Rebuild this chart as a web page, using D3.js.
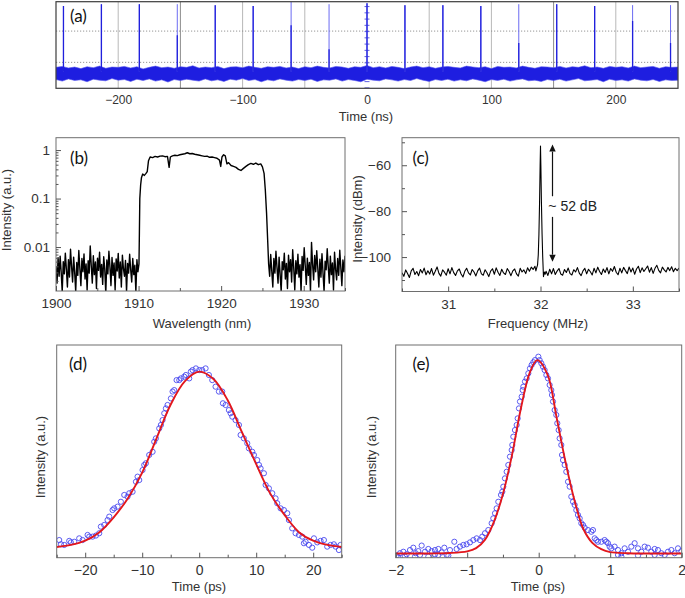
<!DOCTYPE html>
<html><head><meta charset="utf-8">
<script src="https://cdn.jsdelivr.net/npm/d3@7"></script>
<style>
body{margin:0;background:#fff;}
svg{display:block;}
</style></head><body>
<svg id="c" width="685" height="598"></svg>
<script>
// ---------------- DATA ----------------
// (a) oscilloscope pulse train
const aTickLabels = [-200, -100, 0, 100, 200];
const aGridX = [-200, -150, -100, -50, 50, 100, 150, 200];
const aGridY = [0, 1];
const aCenterTicks = [-0.8,-0.6,-0.4,-0.2,0,0.2,0.4,0.6,0.8,1,1.2,1.4,1.6,1.8];
const aPulseTime  = [-244,-213.5,-183,-152.5,-122,-91.5,-61,-30.5,0,30.5,61,91.5,122,152.5,183,213.5,244];
const aPulseTop   = [1.80,1.86,1.86,1.86,1.83,1.80,1.93,1.86,1.89,1.83,1.83,1.80,1.86,1.86,1.80,1.83,1.83];
const aPulseSolid = [1.80,1.86,1.86,0.87,1.83,1.80,1.19,0.42,1.89,1.83,1.83,1.80,0.62,1.86,1.80,1.32,0.62];
const aNoiseUpper = [-0.16,-0.13,-0.18,-0.15,-0.2,-0.14,-0.17,-0.12,-0.19,-0.15,
-0.16,-0.13,-0.18,-0.14,-0.21,-0.16,-0.12,-0.17,-0.15,-0.19,
-0.14,-0.16,-0.11,-0.18,-0.15,-0.17,-0.13,-0.2,-0.15,-0.14,
-0.17,-0.12,-0.16,-0.19,-0.14,-0.16,-0.13,-0.18,-0.15,-0.2,
-0.14,-0.17,-0.12,-0.16,-0.18,-0.13,-0.15,-0.19,-0.14,-0.16,
-0.1,-0.17,-0.14,-0.18,-0.13,-0.16,-0.2,-0.15,-0.12,-0.17,
-0.14,-0.19,-0.15,-0.13,-0.16,-0.18,-0.12,-0.15,-0.17,-0.14,
-0.2,-0.13,-0.16,-0.15,-0.18,-0.12,-0.16,-0.19,-0.14,-0.15,
-0.17,-0.13,-0.18,-0.14,-0.16,-0.11,-0.17,-0.15,-0.19,-0.13,
-0.16,-0.14,-0.18,-0.12,-0.17,-0.15,-0.13,-0.19,-0.14,-0.16,-0.15];
const aNoiseLower = [-0.55,-0.6,-0.53,-0.58,-0.56,-0.62,-0.54,-0.57,-0.59,-0.52,
-0.57,-0.55,-0.61,-0.54,-0.58,-0.53,-0.6,-0.56,-0.63,-0.55,
-0.58,-0.54,-0.57,-0.6,-0.53,-0.59,-0.56,-0.61,-0.54,-0.57,
-0.52,-0.58,-0.55,-0.62,-0.56,-0.59,-0.53,-0.57,-0.6,-0.55,
-0.58,-0.54,-0.61,-0.56,-0.57,-0.53,-0.6,-0.55,-0.58,-0.62,
-0.54,-0.57,-0.59,-0.53,-0.56,-0.6,-0.55,-0.58,-0.52,-0.57,
-0.61,-0.55,-0.58,-0.54,-0.6,-0.56,-0.59,-0.53,-0.57,-0.62,
-0.55,-0.58,-0.54,-0.6,-0.56,-0.53,-0.59,-0.57,-0.61,-0.55,
-0.58,-0.54,-0.6,-0.56,-0.52,-0.59,-0.57,-0.55,-0.62,-0.54,
-0.58,-0.56,-0.6,-0.53,-0.57,-0.59,-0.55,-0.61,-0.56,-0.58,-0.57];

// (b) optical spectrum (log scale)
const bTickLabels = [1900, 1910, 1920, 1930];
const bMinorX = [1905, 1915, 1925, 1935];
const bYTicks = [0.01, 0.1, 1];
const bYMinor = [0.002,0.003,0.004,0.005,0.006,0.007,0.008,0.009,0.02,0.03,0.04,0.05,0.06,0.07,0.08,0.09,0.2,0.3,0.4,0.5,0.6,0.7,0.8,0.9];
const bLeftRange = [1900, 1910.05];
const bLeftNoise = [0.004,0.0018,0.006,0.0025,0.0065,0.003,0.0012,0.005,0.0028,0.0075,0.0035,0.0015,0.0055,0.0024,0.009,0.004,0.0019,0.0062,0.003,0.0012,0.0048,0.0026,0.0085,0.0036,0.0016,0.0058,0.0031,0.0072,0.0022,0.0045,0.0013,0.0052,0.0029,0.0105,0.0041,0.0018,0.0066,0.0027,0.0049,0.0014,0.0059,0.0033,0.0078,0.0024,0.0044,0.0017,0.0063,0.0035,0.0011,0.0054,0.0028,0.0082,0.0039,0.0016,0.0061,0.0026,0.0047,0.0013,0.0057,0.0032,0.0074,0.0023,0.0049,0.0015,0.0068,0.0036,0.0025,0.0053,0.0012,0.0046,0.0029,0.0071,0.0034,0.0019,0.0058,0.0027,0.0042,0.0012,0.0055,0.0031,0.0045];
const bPlateau = [[1910.1,0.02],[1910.15,0.1],[1910.25,0.19],[1910.35,0.27],[1910.5,0.32],[1910.7,0.30],[1910.9,0.33],[1911.05,0.36],[1911.2,0.6],[1911.4,0.72],[1911.7,0.70],[1912.0,0.74],[1912.3,0.72],[1912.6,0.75],[1912.9,0.76],[1913.2,0.73],[1913.5,0.74],[1913.7,0.44],[1913.85,0.72],[1914.1,0.76],[1914.4,0.78],[1914.7,0.77],[1915.0,0.80],[1915.3,0.82],[1915.6,0.84],[1915.9,0.88],[1916.2,0.84],[1916.5,0.85],[1916.8,0.82],[1917.1,0.80],[1917.4,0.78],[1917.7,0.76],[1918.0,0.74],[1918.3,0.75],[1918.6,0.71],[1918.9,0.72],[1919.2,0.70],[1919.5,0.68],[1919.8,0.62],[1919.95,0.46],[1920.1,0.72],[1920.3,0.80],[1920.5,0.76],[1920.7,0.52],[1920.9,0.55],[1921.2,0.48],[1921.5,0.46],[1921.8,0.44],[1922.1,0.40],[1922.4,0.38],[1922.7,0.42],[1923.0,0.46],[1923.3,0.50],[1923.6,0.53],[1923.9,0.51],[1924.2,0.54],[1924.5,0.50],[1924.8,0.52],[1925.0,0.45],[1925.2,0.33],[1925.35,0.15],[1925.5,0.05],[1925.65,0.012]];
const bRightRange = [1925.75, 1935];
const bRightNoise = [0.0045,0.0025,0.007,0.0032,0.0015,0.0058,0.0029,0.0082,0.0038,0.0018,0.0062,0.0027,0.0012,0.005,0.0034,0.0075,0.0022,0.0046,0.0014,0.0068,0.0031,0.0055,0.0019,0.0088,0.0037,0.0013,0.0052,0.0028,0.0071,0.0024,0.0043,0.0012,0.0064,0.0033,0.0097,0.0041,0.0017,0.0059,0.0026,0.0048,0.0012,0.0125,0.0045,0.0021,0.0067,0.0031,0.0084,0.0036,0.0015,0.0056,0.0024,0.0073,0.0029,0.0012,0.0051,0.0034,0.0092,0.0039,0.0018,0.0065,0.0027,0.0047,0.0013,0.0078,0.0035,0.0021,0.0058,0.0026,0.0086,0.0038,0.0016,0.0054,0.0031,0.0066];

// (c) RF spectrum
const cTickLabels = [31, 32, 33];
const cMinorX = [30.5, 31.5, 32.5, 33.5];
const cYTicks = [-60, -80, -100];
const cYMinor = [-50, -70, -90, -110];
const cLeftRange = [30.5, 31.94];
const cLeftNoise = [-106.8,-108.4,-105.6,-107.2,-108.9,-106.0,-104.9,-107.6,-106.3,-108.1,-105.4,-106.9,-104.8,-107.7,-106.0,-107.4,-105.0,-107.9,-106.2,-104.3,-107.1,-108.3,-105.6,-106.6,-107.9,-105.1,-107.3,-104.6,-106.8,-108.0,-106.0,-105.2,-107.4,-108.7,-106.2,-104.9,-106.9,-107.8,-105.4,-106.5,-108.2,-106.0,-104.8,-107.3,-107.9,-105.5,-106.8,-108.5,-106.1,-105.1,-107.5,-104.7,-106.6,-108.0,-105.3,-106.9,-107.6,-105.0,-106.3,-108.1,-106.0,-105.2,-107.3,-108.3,-104.9,-106.5,-105.6,-107.2,-104.7,-106.2,-104.4,-105.4,-104.0];
const cPeak = [[31.95,-106],[31.96,-104.5],[31.968,-103.5],[31.976,-99],[31.983,-90],[31.99,-76],[31.996,-60],[32.0,-51.6],[32.004,-60],[32.01,-76],[32.017,-90],[32.024,-100],[32.032,-108.5],[32.042,-106.5],[32.05,-107.5]];
const cRightRange = [32.06, 33.5];
const cRightNoise = [-106.2,-108.0,-105.3,-107.3,-105.0,-107.6,-106.1,-105.0,-107.4,-107.9,-105.4,-106.7,-104.8,-107.2,-107.8,-105.5,-106.5,-104.6,-107.0,-108.1,-106.0,-104.9,-107.3,-105.3,-106.4,-107.8,-104.9,-106.9,-104.4,-106.3,-107.6,-105.2,-106.7,-104.6,-107.3,-105.0,-106.2,-104.1,-106.6,-107.7,-104.9,-106.9,-104.5,-105.9,-107.2,-104.3,-106.5,-104.8,-107.5,-105.2,-104.0,-106.8,-104.7,-106.3,-105.1,-103.9,-106.6,-104.6,-107.1,-104.9,-103.6,-105.8,-106.9,-104.4,-105.6,-106.5,-104.5,-105.9,-104.2,-106.4,-104.9,-105.9,-104.8];
const cArrow = {x: 32.13, top: -51, bottom: -102, gapTop: -73.5, gapBottom: -82.5, labelY: -78, labelX: 32.085};
const cArrowLabel = "~ 52 dB";

// (d) autocorrelation, wide range
const dTickLabels = [-20, -10, 0, 10, 20];
const dMinorX = [-25, -15, -5, 5, 15, 25];
const dScatter = [[-24.56,0.083],[-24.26,0.063],[-23.68,0.060],[-22.80,0.079],[-22.51,0.072],[-21.92,0.075],[-21.05,0.091],[-20.46,0.083],[-19.58,0.107],[-19.29,0.099],[-18.71,0.099],[-18.12,0.104],[-17.54,0.115],[-17.25,0.146],[-16.66,0.154],[-16.08,0.177],[-15.78,0.193],[-15.20,0.224],[-14.91,0.232],[-14.32,0.240],[-13.74,0.263],[-13.15,0.295],[-12.57,0.287],[-12.27,0.303],[-11.69,0.310],[-11.10,0.357],[-10.81,0.381],[-10.52,0.365],[-9.94,0.412],[-9.64,0.436],[-9.35,0.444],[-8.77,0.483],[-8.18,0.498],[-7.89,0.545],[-7.60,0.561],[-7.01,0.608],[-6.72,0.624],[-6.43,0.647],[-6.13,0.679],[-5.84,0.702],[-5.55,0.718],[-4.96,0.749],[-4.67,0.781],[-4.38,0.788],[-3.97,0.835],[-3.50,0.835],[-3.21,0.843],[-2.63,0.851],[-2.33,0.859],[-1.75,0.843],[-1.46,0.875],[-1.16,0.882],[-0.58,0.890],[0.01,0.882],[0.53,0.882],[1.12,0.890],[1.70,0.859],[2.29,0.835],[2.87,0.804],[3.46,0.781],[4.04,0.781],[4.16,0.726],[4.63,0.718],[5.21,0.694],[5.51,0.679],[5.80,0.663],[6.38,0.647],[6.97,0.624],[7.26,0.577],[7.84,0.561],[8.43,0.538],[8.72,0.514],[9.31,0.498],[9.60,0.483],[10.18,0.459],[10.48,0.436],[10.77,0.420],[11.35,0.397],[11.65,0.342],[12.23,0.326],[12.82,0.303],[13.40,0.279],[13.69,0.256],[14.28,0.232],[14.86,0.224],[15.45,0.209],[15.74,0.177],[16.32,0.138],[16.91,0.115],[17.49,0.107],[18.08,0.099],[18.37,0.068],[18.66,0.075],[19.25,0.060],[19.83,0.047],[20.13,0.091],[20.71,0.072],[21.30,0.079],[21.88,0.083],[22.46,0.052],[23.05,0.060],[23.63,0.063],[23.93,0.052],[24.51,0.036],[24.80,0.060]];
const dFitTime = [-25,-22.5,-20,-17.5,-15,-12.5,-10,-7.5,-5,-2.5,0,2.5,5,7.5,10,12.5,15,17.5,20,22.5,25];
const dFitValue = [0.05,0.06,0.08,0.12,0.19,0.28,0.40,0.56,0.72,0.83,0.875,0.84,0.74,0.59,0.44,0.30,0.20,0.12,0.08,0.06,0.05];

// (e) autocorrelation, narrow range
const eTickLabels = [-2, -1, 0, 1, 2];
const eMinorX = [-1.5, -0.5, 0.5, 1.5];
const eScatter = [[-1.987,0.010],[-1.963,0.002],[-1.940,0.021],[-1.893,0.028],[-1.870,0.005],[-1.847,0.016],[-1.800,0.036],[-1.754,0.047],[-1.730,0.005],[-1.721,0.021],[-1.684,0.031],[-1.660,0.013],[-1.637,0.057],[-1.590,0.028],[-1.544,0.041],[-1.544,0.005],[-1.497,0.031],[-1.451,0.036],[-1.451,0.016],[-1.404,0.041],[-1.404,0.013],[-1.357,0.025],[-1.320,0.047],[-1.287,0.013],[-1.264,0.010],[-1.241,0.036],[-1.180,0.075],[-1.148,0.041],[-1.101,0.052],[-1.054,0.060],[-1.008,0.063],[-0.961,0.072],[-0.914,0.083],[-0.868,0.091],[-0.821,0.083],[-0.789,0.099],[-0.751,0.115],[-0.705,0.130],[-0.658,0.162],[-0.635,0.185],[-0.611,0.209],[-0.588,0.232],[-0.565,0.263],[-0.527,0.295],[-0.509,0.310],[-0.495,0.334],[-0.472,0.373],[-0.448,0.404],[-0.425,0.436],[-0.402,0.475],[-0.378,0.506],[-0.369,0.530],[-0.355,0.569],[-0.332,0.600],[-0.308,0.624],[-0.294,0.655],[-0.276,0.702],[-0.262,0.734],[-0.238,0.757],[-0.224,0.788],[-0.215,0.804],[-0.192,0.828],[-0.168,0.843],[-0.145,0.867],[-0.122,0.890],[-0.099,0.906],[-0.075,0.919],[-0.052,0.929],[-0.005,0.945],[0.013,0.929],[0.037,0.914],[0.060,0.898],[0.083,0.882],[0.107,0.859],[0.130,0.843],[0.153,0.812],[0.176,0.788],[0.186,0.765],[0.200,0.734],[0.223,0.694],[0.246,0.671],[0.260,0.632],[0.279,0.600],[0.293,0.561],[0.316,0.530],[0.326,0.483],[0.340,0.459],[0.363,0.436],[0.386,0.404],[0.410,0.357],[0.433,0.334],[0.456,0.287],[0.480,0.263],[0.503,0.248],[0.526,0.224],[0.549,0.201],[0.573,0.185],[0.596,0.162],[0.619,0.154],[0.643,0.141],[0.689,0.130],[0.736,0.122],[0.759,0.130],[0.783,0.091],[0.806,0.083],[0.829,0.075],[0.876,0.075],[0.922,0.083],[0.946,0.075],[0.969,0.068],[0.992,0.052],[1.016,0.044],[1.062,0.052],[1.109,0.036],[1.109,0.013],[1.156,0.021],[1.156,0.005],[1.202,0.044],[1.249,0.028],[1.295,0.052],[1.342,0.068],[1.389,0.044],[1.389,0.010],[1.435,0.028],[1.482,0.052],[1.528,0.047],[1.575,0.028],[1.622,0.041],[1.622,0.013],[1.668,0.036],[1.715,0.021],[1.762,0.013],[1.808,0.028],[1.855,0.036],[1.901,0.021],[1.948,0.044],[1.995,0.031]];
const eFitTime = [-2,-1.5,-1.25,-1.0,-0.875,-0.75,-0.625,-0.5,-0.375,-0.25,-0.125,-0.02,0.125,0.25,0.375,0.5,0.625,0.75,0.875,1.0,1.25,1.5,2];
const eFitValue = [0.02,0.02,0.022,0.03,0.045,0.085,0.17,0.30,0.48,0.70,0.87,0.929,0.86,0.66,0.45,0.27,0.135,0.07,0.04,0.026,0.021,0.02,0.02];

// ---------------- DRAWING ----------------
const svg = d3.select("#c");
const FONT = "'Liberation Sans', Arial, sans-serif";
const LABELFONT = "Lato, 'Open Sans', sans-serif";
let clipId = 0;

function makeClip(x0, y0, x1, y1) {
  const id = "clip" + (clipId++);
  svg.append("clipPath").attr("id", id).append("rect")
    .attr("x", x0).attr("y", y0).attr("width", x1 - x0).attr("height", y1 - y0);
  return "url(#" + id + ")";
}
function styleAxis(g, size) {
  g.attr("font-family", FONT).attr("font-size", size);
  g.select(".domain").remove();
  g.selectAll(".tick line").attr("stroke", "#555");
  g.selectAll(".tick text").attr("fill", "#333");
}
function frame(x0, y0, x1, y1, color, w) {
  svg.append("rect").attr("x", x0).attr("y", y0).attr("width", x1 - x0).attr("height", y1 - y0)
    .attr("fill", "none").attr("stroke", color).attr("stroke-width", w);
}
function panelLabel(txt, x, y) {
  svg.append("text").attr("x", x).attr("y", y).text(txt)
    .attr("font-family", LABELFONT).attr("font-size", 17).attr("fill", "#111");
}
function xTitle(txt, x, y) {
  svg.append("text").attr("x", x).attr("y", y).attr("text-anchor", "middle").text(txt)
    .attr("font-family", FONT).attr("font-size", 13).attr("fill", "#333");
}
function yTitle(txt, x, y) {
  svg.append("text").attr("transform", `translate(${x},${y}) rotate(-90)`).attr("text-anchor", "middle").text(txt)
    .attr("font-family", FONT).attr("font-size", 13).attr("fill", "#333");
}

// ===== (a) =====
{
  const L = 56, R = 678, T = 1.7, B = 88.3;
  const x = d3.scaleLinear().domain([-250, 250]).range([L, R]);
  const y = d3.scaleLinear().domain([-0.83, 1.94]).range([B, T]);
  const g = svg.append("g").attr("clip-path", makeClip(L, T, R, B));
  g.selectAll("line.vg").data(aGridX).join("line")
    .attr("x1", d => x(d)).attr("x2", d => x(d)).attr("y1", T).attr("y2", B)
    .attr("stroke", d => Math.abs(d) === 150 ? "#8c8c8c" : "#b8b8b8").attr("stroke-width", 1);
  g.selectAll("line.hg").data(aGridY).join("line")
    .attr("x1", L).attr("x2", R).attr("y1", d => y(d)).attr("y2", d => y(d))
    .attr("stroke", "#8a8a8a").attr("stroke-width", 0.9).attr("stroke-dasharray", "1.2,1.8");
  const ca = g.append("g").attr("transform", `translate(${x(0)},0)`)
    .call(d3.axisLeft(y).tickValues(aCenterTicks).tickSize(2.5).tickFormat(""));
  ca.select(".domain").remove();
  ca.selectAll(".tick line").attr("stroke", "#6060e0").attr("x2", 2.5).attr("x1", -2.5);
  const n = aNoiseUpper.length;
  const nx = i => -250 + i * 500 / (n - 1);
  const area = d3.area().x((d, i) => x(nx(i))).y0((d, i) => y(aNoiseLower[i])).y1(d => y(d));
  g.append("path").datum(aNoiseUpper).attr("d", area).attr("fill", "#1e1ee0")
    .attr("stroke", "#5555ee").attr("stroke-width", 0.6);
  g.selectAll("line.pl").data(aPulseTime).join("line")
    .attr("x1", d => x(d)).attr("x2", d => x(d)).attr("y1", y(-0.3)).attr("y2", (d, i) => y(aPulseTop[i]))
    .attr("stroke", "#6b6bf2").attr("stroke-width", 1);
  g.selectAll("line.ps").data(aPulseTime).join("line")
    .attr("x1", d => x(d)).attr("x2", d => x(d)).attr("y1", y(-0.3)).attr("y2", (d, i) => y(aPulseSolid[i]))
    .attr("stroke", "#2020dc").attr("stroke-width", 1.3);
  frame(L, T, R, B, "#3c3c3c", 1.2);
  const ax = svg.append("g").attr("transform", `translate(0,${B})`)
    .call(d3.axisBottom(x).tickValues(aTickLabels).tickSize(0).tickPadding(7).tickFormat(d3.format("d")));
  styleAxis(ax, 12);
  xTitle("Time (ns)", 366, 120.5);
  panelLabel("(a)", 70, 22);
}

// ===== (b) =====
{
  const L = 56, R = 345, T = 137.7, B = 291;
  const x = d3.scaleLinear().domain([1900, 1935]).range([L, R]);
  const y = d3.scaleLog().domain([0.00124, 1.8]).range([B, T]);
  const pts = [];
  bLeftNoise.forEach((v, i) => pts.push([bLeftRange[0] + i * (bLeftRange[1] - bLeftRange[0]) / (bLeftNoise.length - 1), v]));
  bPlateau.forEach(p => pts.push(p));
  bRightNoise.forEach((v, i) => pts.push([bRightRange[0] + i * (bRightRange[1] - bRightRange[0]) / (bRightNoise.length - 1), v]));
  const g = svg.append("g").attr("clip-path", makeClip(L, T, R, B));
  g.append("path").datum(pts).attr("fill", "none").attr("stroke", "#000").attr("stroke-width", 1.4)
    .attr("stroke-linejoin", "round")
    .attr("d", d3.line().x(d => x(d[0])).y(d => y(Math.max(d[1], 0.0009))));
  frame(L, T, R, B, "#6e6e6e", 1);
  const ax = svg.append("g").attr("transform", `translate(0,${B})`)
    .call(d3.axisBottom(x).tickValues(bTickLabels).tickSize(-5).tickPadding(7.5).tickFormat(d3.format("d")));
  styleAxis(ax, 13.5);
  const axm = svg.append("g").attr("transform", `translate(0,${B})`)
    .call(d3.axisBottom(x).tickValues(bMinorX).tickSize(-3).tickFormat(""));
  styleAxis(axm, 13.5);
  const ay = svg.append("g").attr("transform", `translate(${L},0)`)
    .call(d3.axisLeft(y).tickValues(bYTicks).tickSize(-5).tickPadding(6).tickFormat(d => String(d)));
  styleAxis(ay, 13.5);
  const aym = svg.append("g").attr("transform", `translate(${L},0)`)
    .call(d3.axisLeft(y).tickValues(bYMinor).tickSize(-2.5).tickFormat(""));
  styleAxis(aym, 13.5);
  xTitle("Wavelength (nm)", 202, 328);
  yTitle("Intensity (a.u.)", 11, 210);
  panelLabel("(b)", 70, 164);
}

// ===== (c) =====
{
  const L = 402, R = 679, T = 137.7, B = 291.5;
  const x = d3.scaleLinear().domain([30.5, 33.5]).range([L, R]);
  const y = d3.scaleLinear().domain([-115, -48]).range([B, T]);
  const pts = [];
  cLeftNoise.forEach((v, i) => pts.push([cLeftRange[0] + i * (cLeftRange[1] - cLeftRange[0]) / (cLeftNoise.length - 1), v]));
  cPeak.forEach(p => pts.push(p));
  cRightNoise.forEach((v, i) => pts.push([cRightRange[0] + i * (cRightRange[1] - cRightRange[0]) / (cRightNoise.length - 1), v]));
  const g = svg.append("g").attr("clip-path", makeClip(L, T, R, B));
  g.append("path").datum(pts).attr("fill", "none").attr("stroke", "#000").attr("stroke-width", 1.1)
    .attr("stroke-linejoin", "round")
    .attr("d", d3.line().x(d => x(d[0])).y(d => y(d[1])));
  const ah = 7, aw = 3.2;
  const axp = x(cArrow.x);
  svg.append("line").attr("x1", axp).attr("x2", axp).attr("y1", y(cArrow.top) + ah).attr("y2", y(cArrow.gapTop))
    .attr("stroke", "#111").attr("stroke-width", 1.2);
  svg.append("line").attr("x1", axp).attr("x2", axp).attr("y1", y(cArrow.gapBottom)).attr("y2", y(cArrow.bottom) - ah)
    .attr("stroke", "#111").attr("stroke-width", 1.2);
  svg.append("path").attr("d", `M${axp},${y(cArrow.top)} L${axp - aw},${y(cArrow.top) + ah} L${axp + aw},${y(cArrow.top) + ah}Z`).attr("fill", "#111");
  svg.append("path").attr("d", `M${axp},${y(cArrow.bottom)} L${axp - aw},${y(cArrow.bottom) - ah} L${axp + aw},${y(cArrow.bottom) - ah}Z`).attr("fill", "#111");
  svg.append("text").attr("x", x(cArrow.labelX)).attr("y", y(cArrow.labelY)).attr("dy", "0.35em").text(cArrowLabel)
    .attr("font-family", FONT).attr("font-size", 14).attr("fill", "#222");
  frame(L, T, R, B, "#6e6e6e", 1);
  const ax = svg.append("g").attr("transform", `translate(0,${B})`)
    .call(d3.axisBottom(x).tickValues(cTickLabels).tickSize(-5).tickPadding(7.5).tickFormat(d3.format("d")));
  styleAxis(ax, 13.5);
  const axm = svg.append("g").attr("transform", `translate(0,${B})`)
    .call(d3.axisBottom(x).tickValues(cMinorX).tickSize(-3).tickFormat(""));
  styleAxis(axm, 13.5);
  const ay = svg.append("g").attr("transform", `translate(${L},0)`)
    .call(d3.axisLeft(y).tickValues(cYTicks).tickSize(-5).tickPadding(11).tickFormat(d3.format("d")));
  styleAxis(ay, 13.5);
  const aym = svg.append("g").attr("transform", `translate(${L},0)`)
    .call(d3.axisLeft(y).tickValues(cYMinor).tickSize(-3).tickFormat(""));
  styleAxis(aym, 13.5);
  xTitle("Frequency (MHz)", 538, 328);
  yTitle("Intensity (dBm)", 361.5, 219);
  panelLabel("(c)", 412.5, 164);
}

// ===== (d) & (e) =====
function autocorr(opts) {
  const {L, R, T, B, dom, scatter, fitT, fitV, ticks, minor, label, lx, ytx, xcx} = opts;
  const x = d3.scaleLinear().domain(dom).range([L, R]);
  const y = d3.scaleLinear().domain([0, 1]).range([B, T]);
  const g = svg.append("g").attr("clip-path", makeClip(L, T, R, B));
  g.selectAll("circle").data(scatter).join("circle")
    .attr("cx", d => x(d[0])).attr("cy", d => y(d[1])).attr("r", 2.6)
    .attr("fill", "none").attr("stroke", "#4a4aee").attr("stroke-width", 0.9);
  g.append("path").datum(fitT).attr("fill", "none").attr("stroke", "#e2171d").attr("stroke-width", 1.9)
    .attr("d", d3.line().curve(d3.curveCatmullRom.alpha(0.5)).x(d => x(d)).y((d, i) => y(fitV[i])));
  frame(L, T, R, B, "#6e6e6e", 1);
  const ax = svg.append("g").attr("transform", `translate(0,${B})`)
    .call(d3.axisBottom(x).tickValues(ticks).tickSize(-5).tickPadding(7.5).tickFormat(d3.format("d")));
  styleAxis(ax, 14);
  const axm = svg.append("g").attr("transform", `translate(0,${B})`)
    .call(d3.axisBottom(x).tickValues(minor).tickSize(-3).tickFormat(""));
  styleAxis(axm, 14);
  xTitle("Time (ps)", xcx, 591);
  yTitle("Intensity (a.u.)", ytx, 457);
  panelLabel(label, lx, 370);
}
autocorr({L: 56.7, R: 341.7, T: 345, B: 557.7, dom: [-25, 25], scatter: dScatter, fitT: dFitTime, fitV: dFitValue,
  ticks: dTickLabels, minor: dMinorX, label: "(d)", lx: 69, ytx: 45, xcx: 199});
autocorr({L: 395.7, R: 681.7, T: 345, B: 557.7, dom: [-2, 2], scatter: eScatter, fitT: eFitTime, fitV: eFitValue,
  ticks: eTickLabels, minor: eMinorX, label: "(e)", lx: 412.5, ytx: 376, xcx: 538});
</script></body></html>
